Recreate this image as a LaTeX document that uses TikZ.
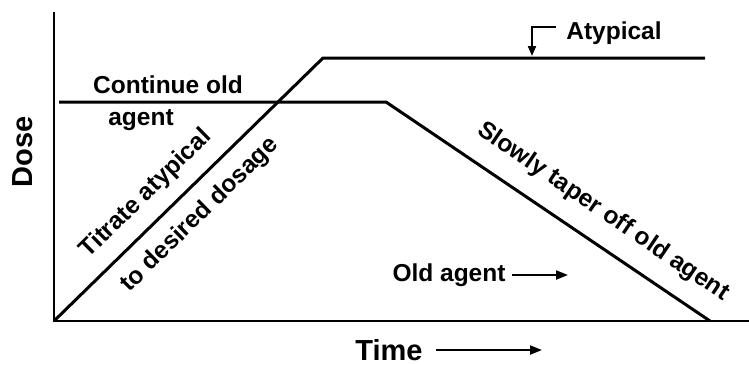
\documentclass[tikz,border=0pt]{standalone}
\usepackage{fontspec}
\setmainfont{Liberation Sans}
\usetikzlibrary{arrows.meta}
\begin{document}
\begin{tikzpicture}[x=1pt,y=-1pt,
  lbl/.style={font=\bfseries\fontsize{24.5}{26}\selectfont, inner sep=0pt},
  axlbl/.style={font=\bfseries\fontsize{29}{31}\selectfont, inner sep=0pt},
  axis/.style={line width=2.6pt},
  curve/.style={line width=3pt},
  pointer/.style={line width=2pt,-{Triangle[length=12pt,width=9pt]}}]
\useasboundingbox (0,0) rectangle (749,364);
% axes
\coordinate (top) at (54,12);
\coordinate (orig) at (54,321);
\coordinate (xend) at (749,321);
\draw[axis] (top) -- (orig) -- (xend);
% atypical curve
\coordinate (a1) at (323,58);
\coordinate (a2) at (705,58);
\draw[curve,line join=miter] (orig) -- (a1) -- (a2);
% old agent curve
\coordinate (o0) at (59,102);
\coordinate (o1) at (386,102);
\coordinate (o2) at (710,321);
\draw[curve] (o0) -- (o1) -- (o2);
% labels
\node[axlbl,rotate=90] (dose) at (23,152) {Dose};
\node[axlbl] (time) at (389,350) {Time};
\coordinate (tA) at (436,350);
\coordinate (tB) at (542,350);
\draw[pointer] (tA) -- (tB);
\node[lbl] (cont) at (168,85) {Continue old};
\node[lbl] (agent) at (141,120) {agent};
\node[lbl,rotate=44.4] (titr) at (146,194) {Titrate atypical};
\node[lbl,rotate=44.4] (desired) at (200,215) {to desired dosage};
\node[lbl,rotate=-34.2] (taper) at (603,212) {Slowly taper off old agent};
\node[lbl] (old) at (449,275) {Old agent};
\coordinate (oA) at (512,275);
\coordinate (oB) at (568,275);
\draw[pointer] (oA) -- (oB);
\node[lbl] (atyp) at (614,33) {Atypical};
\coordinate (b0) at (556,27);
\coordinate (b1) at (532,27);
\coordinate (b2) at (532,56);
\draw[line width=2pt,-{Triangle[length=10pt,width=8pt]}] (b0) -- (b1) -- (b2);
\end{tikzpicture}
\end{document}
